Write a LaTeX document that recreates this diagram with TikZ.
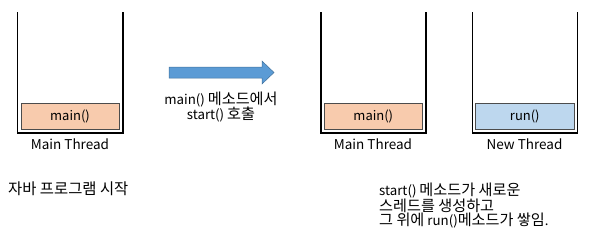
\documentclass[tikz,border=0pt]{standalone}
\usepackage{fontspec}
\setmainfont{Noto Sans CJK KR}
\newfontfamily\krfont{Noto Sans CJK KR}[Scale=1.14]
\newcommand{\kr}[1]{{\krfont #1}}
\begin{document}
\begin{tikzpicture}[x=1pt,y=-1pt,
  wall/.style={line width=1.6pt,black},
  frame/.style={draw=black!70,line width=0.9pt,minimum height=26pt,inner sep=0pt,font=\fontsize{13}{15}\selectfont},
  label/.style={font=\fontsize{13.5}{15}\selectfont,inner sep=0pt},
  note/.style={font=\fontsize{13.3}{15.5}\selectfont,inner sep=0pt,align=left}]
\definecolor{peach}{HTML}{F8CBAD}
\definecolor{skyfill}{HTML}{BDD7EE}
\definecolor{arrowblue}{HTML}{5B9BD5}
\definecolor{arrowedge}{HTML}{41719C}
\useasboundingbox (0,0) rectangle (589,242);

% stacks
\draw[wall] (17.5,12) -- (17.5,133) -- (123,133) -- (123,12);
\node[frame,fill=peach,minimum width=98pt] (m1) at (70,116) {main()};
\node[label] (t1) at (70,144) {Main Thread};

\draw[wall] (320.7,12) -- (320.7,133) -- (425.7,133) -- (425.7,12);
\node[frame,fill=peach,minimum width=98.5pt] (m2) at (373.3,116) {main()};
\node[label] (t2) at (373,144) {Main Thread};

\draw[wall] (472.3,12) -- (472.3,133) -- (577.3,133) -- (577.3,12);
\node[frame,fill=skyfill,minimum width=98.5pt] (r3) at (524.8,116) {run()};
\node[label] (t3) at (524.5,144) {New Thread};

% block arrow
\draw[fill=arrowblue,draw=arrowedge,line width=0.5pt]
  (169,67) -- (262,67) -- (262,61) -- (274,72.5) -- (262,84) -- (262,78) -- (169,78) -- cycle;
\node[note,align=center] (call) at (221,107) {main() \kr{메소드에서}\\start() \kr{호출}};

% captions
\node[label,anchor=west] (start) at (8,189) {\kr{자바 프로그램 시작}};
\node[note,anchor=north west,font=\fontsize{13.3}{14}\selectfont] (desc) at (379,182.5) {start() \kr{메소드가 새로운}\\\kr{스레드를 생성하고}\\\kr{그 위에} run()\kr{메소드가 쌓임}.};
\end{tikzpicture}
\end{document}
